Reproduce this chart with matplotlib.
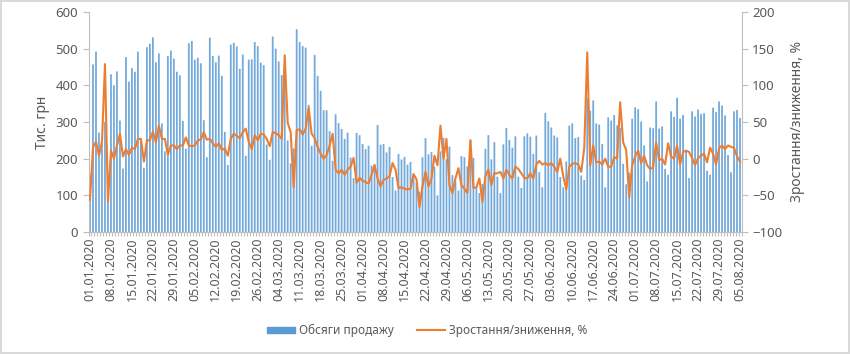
import matplotlib
matplotlib.use("Agg")
import matplotlib.pyplot as plt
import numpy as np
import pandas as pd
from matplotlib.patches import Patch
from matplotlib.lines import Line2D

plt.rcParams['font.family'] = ['Noto Sans', 'DejaVu Sans']

start_date = "2020-01-01"
sales = [
    157, 457, 492, 271, 243, 300, 90, 430, 400, 438, 304, 173, 477, 410, 447, 437, 492, 250, 175, 504,
    513, 531, 463, 487, 296, 220, 480, 495, 473, 437, 427, 303, 227, 515, 521, 470, 475,
    460, 305, 204, 530, 480, 463, 481, 426, 273, 183, 511, 516, 506, 445, 484, 208, 470, 471, 518,
    507, 462, 455, 238, 197, 533, 500, 465, 428, 430, 250, 187, 228, 553, 518, 507, 503, 347,
    235, 483, 426, 385, 332, 332, 275, 194, 321, 297, 281, 254, 271, 203, 147, 270, 264, 240, 226,
    235, 181, 185, 292, 238, 240, 217, 232, 150, 113, 213, 198, 205, 184, 191, 156, 135, 110,
    204, 256, 212, 218, 178, 100, 220, 257, 199, 233, 155, 138, 113, 207, 204, 179, 252, 202, 122,
    106, 131, 227, 264, 198, 245, 151, 106, 239, 284, 251, 230, 261, 151, 120, 261, 269,
    260, 213, 263, 163, 122, 325, 302, 285, 263, 258, 150, 122, 192, 290, 296, 256, 259, 154, 142,
    364, 331, 359, 296, 293, 240, 122, 313, 304, 319, 291, 283, 186, 130, 162, 309,
    340, 335, 301, 236, 138, 285, 283, 356, 282, 288, 172, 156, 329, 314, 366, 309, 319, 220, 147,
    329, 315, 334, 322, 324, 167, 156, 339, 327, 356, 345, 318, 210, 163, 329, 333, 311,
]
growth = [
    -56, 15, 23, 4, 23, 129, -59, 11, 0, 18, 34, 3, 13, 5, 15, 13, 27, 27, -4, 25, 25, 37, 22, 45,
    27, 27, 5, 18, 18, 13, 18, 18, 29, 18, 17, 18, 25,
    26, 36, 26, 27, 21, 16, 21, 12, 14, 4, 27, 34, 31, 28, 36, 41, 23, 13, 32, 25, 34, 33, 27, 17,
    36, 35, 32, 27, 141, 49, 36, -39, 39, 40, 33, 41, 69,
    34, 28, 16, 7, 0, 5, 18, 34, -15, -20, -15, -22, -15, -11, 1, -33, -26, -30, -32, -34, -22,
    -9, -27, -38, -29, -27, -24, -6, -15, -40, -39, -41, -42, -41, -21, -28, -66,
    -38, -18, -38, -27, 4, -9, 45, 0, 27, -36, -47, -27, -13, -36, -41, -47, 25, -40, -39, -27,
    -59, -24, -15, -36, -20, -20, -18, -27, -15, -22, -27, -11, -14, -20, -26, -27,
    -20, -27, -8, -3, -8, -6, -9, -6, -11, -18, 0, -24, -42, -11, -7, -6, -8, -18, 14, 145, -9,
    18, -5, -4, -8, 0, -11, -11, 2, 0, 77, 22, 12, -53, -9,
    3, 11, -6, 4, -9, -14, -12, 22, -2, 0, -8, 21, 3, 0, 18, -8, 9, 11, 9, 1, -9, 1, 4, 7, -5,
    15, 7, -8, 14, 18, 13, 18, 16, 15, 3, -4,
]
dates = pd.date_range(start_date, periods=len(sales))
tick_labels = [d.strftime("%d.%m.%Y") for d in dates]
label_step = 7

bar_color = "#5B9BD5"
line_color = "#ED7D31"
txt_color = "#595959"
axis_color = "#BFBFBF"

fig = plt.figure(figsize=(8.5, 3.54), dpi=100)
fig.patch.set_edgecolor("#D9D9D9")
fig.patch.set_linewidth(1.5)

ax = fig.add_axes([88.5 / 850, 122 / 354, (741.5 - 88.5) / 850, 220 / 354])
x = np.arange(len(sales))
bars = ax.bar(x, sales, width=0.6, color=bar_color, alpha=0.85, zorder=2, linewidth=0)
for b in bars:
    b.set_snap(False)
ax.set_xlim(-0.5, len(sales) - 0.5)
ax.set_ylim(0, 600)
ax.set_yticks(range(0, 601, 100))
ax.set_ylabel("Тис. грн", fontsize=10, color=txt_color, labelpad=4)

ax2 = ax.twinx()
ax2.plot(x, growth, color=line_color, lw=1.5, zorder=3)
ax2.set_ylim(-100, 200)
ax2.set_yticks(range(-100, 201, 50))
ax2.set_ylabel("Зростання/зниження, %", fontsize=10, color=txt_color, labelpad=6)

ax.set_xticks(x[::label_step])
ax.set_xticklabels(tick_labels[::label_step], rotation=90, fontsize=9, color=txt_color)
ax.set_xticks(np.arange(-0.5, len(sales), 1), minor=True)
ax.tick_params(axis="x", which="major", length=0, pad=4)
ax.tick_params(axis="x", which="minor", length=3, color=axis_color, width=0.8)

for a in (ax, ax2):
    a.tick_params(axis="y", labelsize=9.5, labelcolor=txt_color, color=axis_color, length=4, width=0.8)
    for s in a.spines.values():
        s.set_visible(False)
ax.spines["left"].set_visible(True)
ax.spines["left"].set_color(axis_color)
ax.spines["bottom"].set_visible(True)
ax.spines["bottom"].set_color(axis_color)
ax2.spines["right"].set_visible(True)
ax2.spines["right"].set_color(axis_color)
ax.patch.set_alpha(0)

handles = [Patch(facecolor="#5B9BD5", edgecolor="#5B9BD5"), Line2D([0], [0], color=line_color, lw=1.5)]
fig.legend(handles, ["Обсяги продажу", "Зростання/зниження, %"], loc="center",
           bbox_to_anchor=(427 / 850, 1 - 330.5 / 354), ncol=2, frameon=False, fontsize=8.5,
           labelcolor=txt_color, columnspacing=2.0, handlelength=2.4, handleheight=0.45,
           handletextpad=0.3)

fig.savefig("out.png", dpi=100)
